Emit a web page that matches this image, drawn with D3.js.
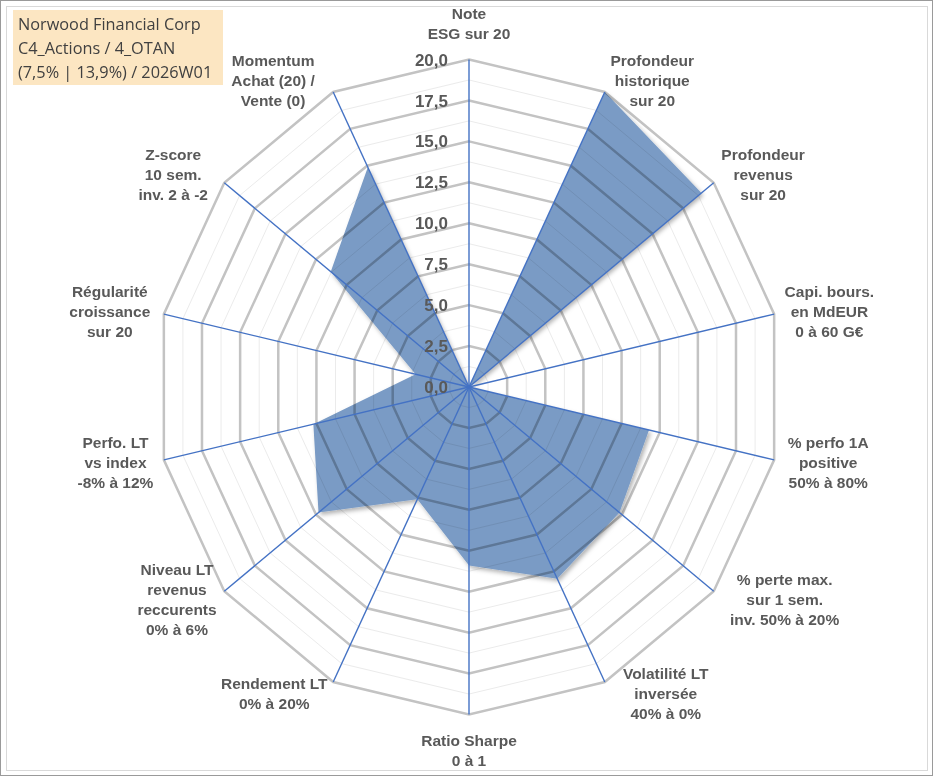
<!DOCTYPE html>
<html>
<head>
<meta charset="utf-8">
<script src="https://cdn.jsdelivr.net/npm/d3@7"></script>
<style>
  body { margin: 0; background: #fff; }
  svg { display: block; }
  .axis-label { font-family: "Liberation Sans", Arial, sans-serif; font-weight: bold; font-size: 15.5px; fill: #595959; }
  .tick-label { font-family: "Liberation Sans", Arial, sans-serif; font-weight: bold; font-size: 17px; fill: #595959; }
  .legend-text { font-family: "Open Sans", sans-serif; font-size: 16.3px; fill: #404040; }
</style>
</head>
<body>
<svg id="chart" width="933" height="776"></svg>
<script>
// axes, clockwise from the top
const axisLabels = [
  ["Note", "ESG sur 20"],
  ["Profondeur", "historique", "sur 20"],
  ["Profondeur", "revenus", "sur 20"],
  ["Capi. bours.", "en MdEUR", "0 à 60 G€"],
  ["% perfo 1A", "positive", "50% à 80%"],
  ["% perte max.", "sur 1 sem.", "inv. 50% à 20%"],
  ["Volatilité LT", "inversée", "40% à 0%"],
  ["Ratio Sharpe", "0 à 1"],
  ["Rendement LT", "0% à 20%"],
  ["Niveau LT", "revenus", "reccurents", "0% à 6%"],
  ["Perfo. LT", "vs index", "-8% à 12%"],
  ["Régularité", "croissance", "sur 20"],
  ["Z-score", "10 sem.", "inv. 2 à -2"],
  ["Momentum", "Achat (20) /", "Vente (0)"]
];

// scores (0 to 20)
const scores = [0, 20, 19, 0, 11.8, 12.3, 13, 10.9, 7.6, 12.3, 10.2, 3.5, 11.3, 14.9];

const tickValues = [0, 2.5, 5, 7.5, 10, 12.5, 15, 17.5, 20];
const minorValues = [1.25, 3.75, 6.25, 8.75, 11.25, 13.75, 16.25, 18.75];

const legendLines = ["Norwood Financial Corp", "C4_Actions / 4_OTAN", "(7,5% | 13,9%) / 2026W01"];

const width = 933, height = 776;
const cx = 469, cy = 387;

const svg = d3.select("#chart");
const fr = d3.formatLocale({ decimal: ",", thousands: " ", grouping: [3], currency: ["", "€"] });
const fmt = fr.format(".1f");

// the picture is a bit taller than wide
const rX = d3.scaleLinear().domain([0, 20]).range([0, 313]);
const rY = d3.scaleLinear().domain([0, 20]).range([0, 327.5]);
const angle = d3.scaleLinear().domain([0, axisLabels.length]).range([0, 2 * Math.PI]);

function pt(i, v) {
  const a = angle(i);
  return [cx + rX(v) * Math.sin(a), cy - rY(v) * Math.cos(a)];
}

const ring = d3.line().curve(d3.curveLinearClosed);

// frame
svg.append("rect").attr("x", 0.5).attr("y", 0.5).attr("width", width - 1).attr("height", height - 1)
  .attr("fill", "#fff").attr("stroke", "#9a9a9a");
svg.append("rect").attr("x", 6.5).attr("y", 6.5).attr("width", width - 12).attr("height", height - 12)
  .attr("fill", "none").attr("stroke", "#d9d9d9");

const defs = svg.append("defs");
const shadow = defs.append("filter").attr("id", "shadow")
  .attr("x", "-10%").attr("y", "-10%").attr("width", "130%").attr("height", "130%");
shadow.append("feDropShadow")
  .attr("dx", 2).attr("dy", 2.5).attr("stdDeviation", 2)
  .attr("flood-color", "#000").attr("flood-opacity", 0.3);

const g = svg.append("g");

// grid rings
g.selectAll(".minor-ring")
  .data(minorValues)
  .enter().append("path")
  .attr("class", "minor-ring")
  .attr("d", v => ring(axisLabels.map((d, i) => pt(i, v))))
  .attr("fill", "none")
  .attr("stroke", "#ebebeb")
  .attr("stroke-width", 1);

g.selectAll(".major-ring")
  .data(tickValues.filter(v => v > 0))
  .enter().append("path")
  .attr("class", "major-ring")
  .attr("d", v => ring(axisLabels.map((d, i) => pt(i, v))))
  .attr("fill", "none")
  .attr("stroke", "#c3c3c3")
  .attr("stroke-width", 2.5);

// the filled series
g.append("path")
  .datum(scores)
  .attr("d", ring(scores.map((v, i) => pt(i, v))))
  .attr("fill", "#7a9bc5")
  .attr("filter", "url(#shadow)")
  .style("mix-blend-mode", "multiply");

// spokes
g.selectAll(".spoke")
  .data(axisLabels)
  .enter().append("line")
  .attr("class", "spoke")
  .attr("x1", cx).attr("y1", cy)
  .attr("x2", (d, i) => pt(i, 20)[0])
  .attr("y2", (d, i) => pt(i, 20)[1])
  .attr("stroke", "#4472c4")
  .attr("stroke-width", 1.4);

// scale labels
g.selectAll(".tick-label")
  .data(tickValues)
  .enter().append("text")
  .attr("class", "tick-label")
  .attr("x", cx - 21)
  .attr("y", v => cy - rY(v))
  .attr("dy", "0.36em")
  .attr("text-anchor", "end")
  .text(v => fmt(v));

// axis labels
const lineH = 20;
g.selectAll(".axis-label")
  .data(axisLabels)
  .enter().append("text")
  .attr("class", "axis-label")
  .attr("text-anchor", "middle")
  .each(function (lines, i) {
    const t = d3.select(this);
    lines.forEach(s => t.append("tspan").text(s));
    let w = 0;
    t.selectAll("tspan").each(function () { w = Math.max(w, this.getComputedTextLength()); });
    const a = angle(i);
    const s = Math.sin(a), c = Math.cos(a);
    const [vx, vy] = pt(i, 20);
    const h = lines.length * lineH;
    let x, y;
    if (Math.abs(s) < 1e-6) {
      x = vx;
      y = vy - c * (h / 2 + 16);
    } else {
      x = vx + Math.sign(s) * (w / 2 + 12) - 7 * c;
      y = vy - 13 * c;
    }
    const top = y - h / 2 + lineH / 2;
    t.selectAll("tspan")
      .attr("x", x)
      .attr("y", (d, k) => top + k * lineH)
      .attr("dy", "0.36em");
  });

// info box
const legend = svg.append("g");
legend.append("rect")
  .attr("x", 13).attr("y", 10).attr("width", 210).attr("height", 75)
  .attr("fill", "#fce6c2");
legend.selectAll("text")
  .data(legendLines)
  .enter().append("text")
  .attr("class", "legend-text")
  .attr("x", 18)
  .attr("y", (d, i) => 24 + i * 24)
  .attr("dy", "0.36em")
  .text(d => d);
</script>
</body>
</html>
